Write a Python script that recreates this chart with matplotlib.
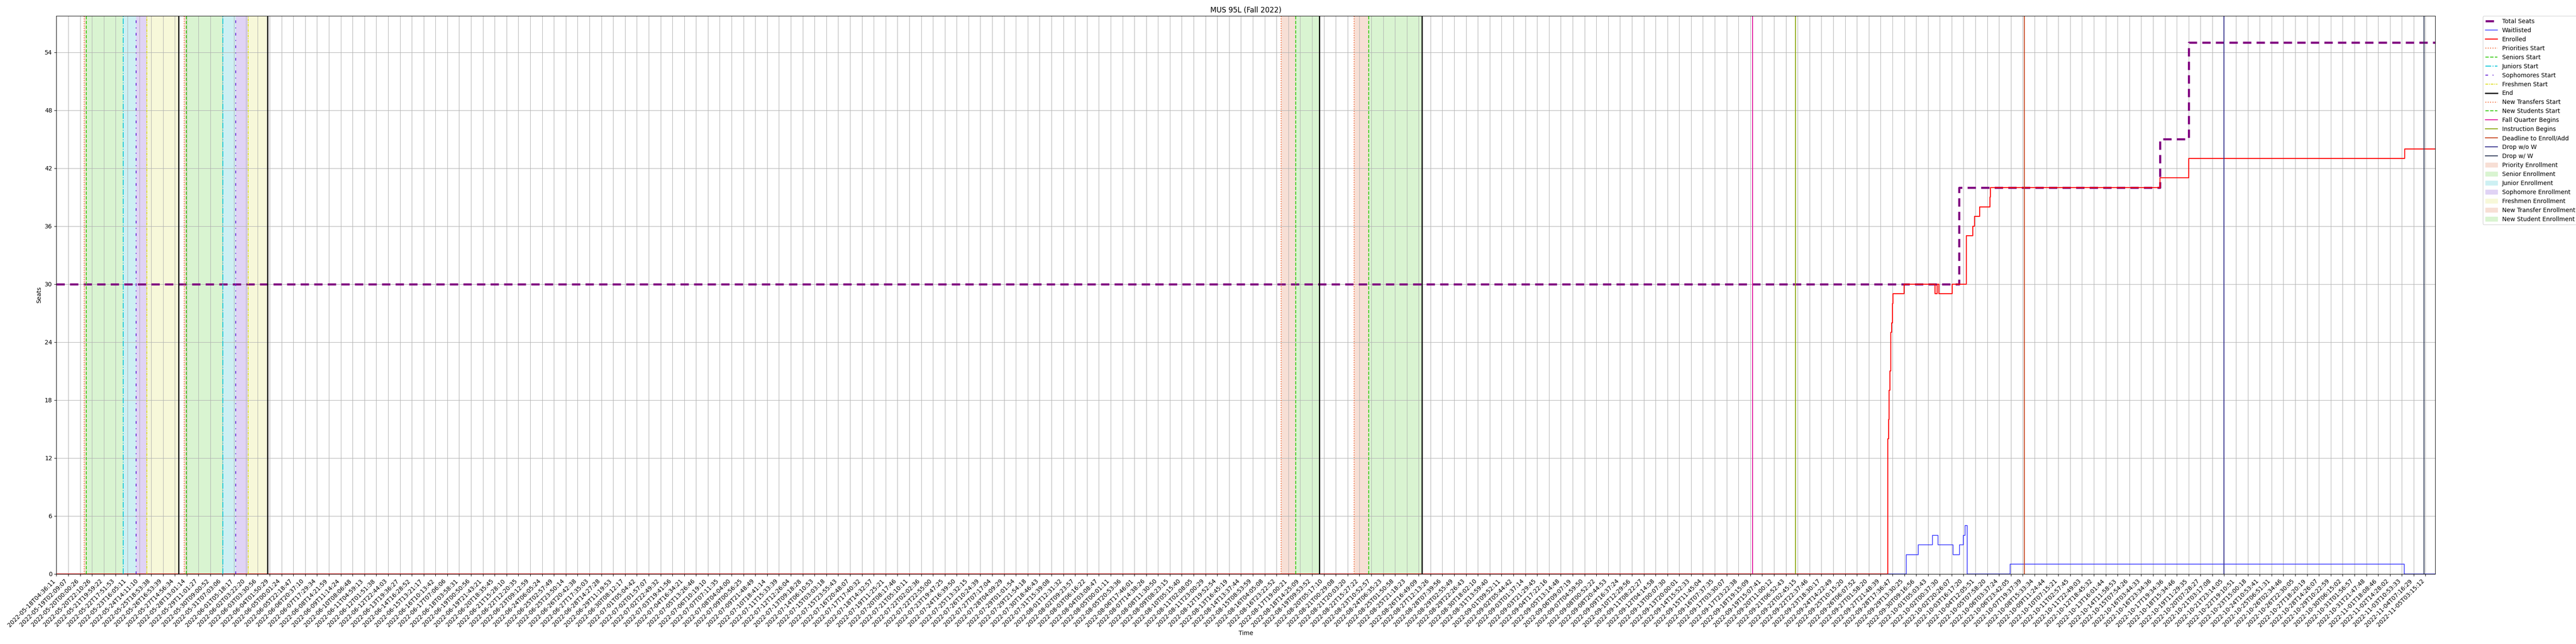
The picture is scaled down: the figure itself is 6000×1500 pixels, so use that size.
import numpy as np
import pandas as pd
import matplotlib
matplotlib.use("Agg")
import matplotlib.pyplot as plt
from matplotlib.lines import Line2D
from matplotlib.patches import Patch

# x positions are sample positions in tick units (the axis is categorical)
total_x = [0, 160.63, 177.57, 180.0, 200.83]
total_y = [30, 40, 45, 55, 55]

enrolled_x = [0, 154.60, 154.66, 154.72, 154.80, 154.87, 154.94, 155.00, 155.05,
              155.99, 158.60, 158.79, 158.91, 160.04, 161.23, 161.78, 161.93,
              162.35, 163.22, 163.27, 177.60, 180.0, 198.25, 200.83]
enrolled_y = [0, 14, 16, 19, 21, 25, 26, 28, 29, 30, 29, 30, 29, 30, 35, 36, 37,
              38, 39, 40, 41, 43, 44, 44]

waitlist_x = [0, 156.15, 157.16, 158.36, 158.85, 160.12, 160.64, 161.0, 161.13,
              161.32, 164.94, 198.22, 200.83]
waitlist_y = [0, 2, 3, 4, 3, 2, 3, 4, 5, 0, 1, 0, 0]

priorities_start = [2.34, 10.77]
seniors_start = [2.51, 10.96]
juniors_start = [5.64, 14.04]
sophomores_start = [6.73, 15.14]
freshmen_start = [7.63, 16.19]
end_marks = [10.31, 17.82, 106.61, 115.29]
new_transfers_start = [103.40, 109.56]
new_students_start = [104.63, 110.79]
fall_quarter_begins = 143.2
instruction_begins = 146.8
deadline_add = 166.13
drop_wo_w = 183.0
drop_w_w = 199.86

# tick labels (index -> label); unread ones are estimated below
read_labels = {
    0: '2022-05-18T04:36:11', 1: '2022-05-19T02:09:07', 2: '2022-05-20T00:00:26',
    3: '2022-05-20T22:10:26', 4: '2022-05-21T19:59:22', 5: '2022-05-22T17:51:53',
    6: '2022-05-23T16:05:11', 7: '2022-05-24T14:11:10', 8: '2022-05-25T18:53:38',
    9: '2022-05-26T16:53:39', 10: '2022-05-27T14:56:34', 11: '2022-05-28T13:01:14',
    12: '2022-05-29T11:01:27', 13: '2022-05-30T09:00:52', 14: '2022-05-31T07:03:06',
    15: '2022-06-01T05:18:17', 16: '2022-06-02T03:22:20', 17: '2022-06-03T03:30:56',
    18: '2022-06-04T01:50:29', 19: '2022-06-05T00:01:24', 20: '2022-06-05T22:18:47',
    21: '2022-06-06T20:37:10',
    100: '2022-08-14T13:37:44', 101: '2022-08-15T08:53:59', 102: '2022-08-16T04:05:08',
    103: '2022-08-16T23:22:52', 104: '2022-08-17T19:00:21', 105: '2022-08-18T14:25:09',
    106: '2022-08-19T09:53:52', 107: '2022-08-20T05:17:10', 108: '2022-08-21T00:29:08',
    109: '2022-08-21T20:03:20', 110: '2022-08-22T15:27:22', 111: '2022-08-23T10:52:57',
    112: '2022-08-24T06:35:23', 113: '2022-08-25T01:50:58', 114: '2022-08-25T21:18:23',
    115: '2022-08-26T16:49:09', 116: '2022-08-27T12:13:26', 117: '2022-08-28T07:39:56',
    118: '2022-08-29T02:55:49', 119: '2022-08-29T22:26:43', 120: '2022-08-30T18:02:10',
    121: '2022-08-31T13:59:40',
    152: '2022-09-26T06:07:52', 153: '2022-09-27T01:58:20', 154: '2022-09-27T21:48:39',
    155: '2022-09-28T17:36:47', 156: '2022-09-29T13:30:25', 157: '2022-09-30T09:16:56',
    158: '2022-10-01T05:03:43', 159: '2022-10-02T00:37:30', 160: '2022-10-02T20:26:07',
    161: '2022-10-03T16:17:20', 162: '2022-10-04T12:05:51', 163: '2022-10-05T07:58:20',
    164: '2022-10-06T03:37:24', 165: '2022-10-06T23:42:05', 166: '2022-10-07T19:37:39',
    167: '2022-10-08T15:33:34', 168: '2022-10-09T11:24:44', 169: '2022-10-10T07:15:21',
    170: '2022-10-11T02:57:45', 171: '2022-10-11T22:49:03', 172: '2022-10-12T18:45:32',
    173: '2022-10-13T16:01:44', 174: '2022-10-14T11:58:53', 175: '2022-10-15T07:54:26',
    176: '2022-10-16T03:44:33', 177: '2022-10-16T23:34:36', 178: '2022-10-17T19:34:36',
    179: '2022-10-18T15:34:46', 180: '2022-10-19T11:29:35', 181: '2022-10-20T07:28:27',
    182: '2022-10-21T03:17:08', 183: '2022-10-21T23:14:05', 184: '2022-10-22T19:10:51',
    185: '2022-10-23T15:00:18', 186: '2022-10-24T10:53:41', 187: '2022-10-25T06:51:31',
    188: '2022-10-26T02:34:46', 189: '2022-10-26T22:30:05', 190: '2022-10-27T18:20:19',
    191: '2022-10-28T14:26:07', 192: '2022-10-29T10:22:59', 193: '2022-10-30T06:15:02',
    194: '2022-10-31T01:56:57', 195: '2022-10-31T21:47:48', 196: '2022-11-01T18:08:46',
    197: '2022-11-02T14:28:02', 198: '2022-11-03T10:53:33', 199: '2022-11-04T07:16:29',
    200: '2022-11-05T03:15:12',
}
n_ticks = 201

# labels too small to read: estimated from the readable neighbours
known_idx = sorted(read_labels)
known_sec = [pd.Timestamp(read_labels[i]).value / 1e9 for i in known_idx]
tick_labels = []
for i in range(n_ticks):
    if i in read_labels:
        tick_labels.append(read_labels[i])
    else:
        t = np.interp(i, known_idx, known_sec)
        tick_labels.append(pd.Timestamp(int(t), unit='s').strftime('%Y-%m-%dT%H:%M:%S'))

c_prio = '#f26b3a'
c_sen = '#3dcc1a'
c_jun = '#14c8d8'
c_soph = '#6a28d6'
c_fresh = '#dede28'
c_fall = '#e0169c'
c_instr = '#8ca812'
c_dead = '#c8461e'
c_dwo = '#33308c'
c_dw = '#2f3b58'

s_prio = '#f7dfd5'
s_sen = '#d9f4d1'
s_jun = '#cdf0f3'
s_soph = '#e0d3f5'
s_fresh = '#f7f8d9'

fig, ax = plt.subplots(figsize=(60, 15), dpi=100)
fig.subplots_adjust(left=0.0219, right=0.9454, top=0.9751, bottom=0.1090)

# shaded enrollment windows
for a, b in zip(priorities_start, seniors_start):
    ax.axvspan(a, b, color=s_prio, lw=0)
for a, b in zip(seniors_start, juniors_start):
    ax.axvspan(a, b, color=s_sen, lw=0)
for a, b in zip(juniors_start, sophomores_start):
    ax.axvspan(a, b, color=s_jun, lw=0)
for a, b in zip(sophomores_start, freshmen_start):
    ax.axvspan(a, b, color=s_soph, lw=0)
for a, b in zip(freshmen_start, end_marks[:2]):
    ax.axvspan(a, b, color=s_fresh, lw=0)
for a, b in zip(new_transfers_start, new_students_start):
    ax.axvspan(a, b, color=s_prio, lw=0)
for a, b in zip(new_students_start, end_marks[2:]):
    ax.axvspan(a, b, color=s_sen, lw=0)

ax.plot(total_x, total_y, drawstyle='steps-post', color='purple', lw=3.5,
        ls=(0, (4, 2.5)))
ax.plot(waitlist_x, waitlist_y, drawstyle='steps-post', color='blue', lw=1.2,
        alpha=0.8)
ax.plot(enrolled_x, enrolled_y, drawstyle='steps-post', color='red', lw=1.6)

for x in priorities_start:
    ax.axvline(x, color=c_prio, ls=':', lw=1.5)
for x in seniors_start:
    ax.axvline(x, color=c_sen, ls='--', lw=1.5)
for x in juniors_start:
    ax.axvline(x, color=c_jun, ls='-.', lw=1.5)
for x in sophomores_start:
    ax.axvline(x, color=c_soph, ls=(0, (3, 5, 1, 5)), lw=1.5)
for x in freshmen_start:
    ax.axvline(x, color=c_fresh, ls=(0, (3, 1, 1, 1)), lw=1.5)
for x in end_marks:
    ax.axvline(x, color='black', lw=2)
for x in new_transfers_start:
    ax.axvline(x, color=c_prio, ls=':', lw=1.5)
for x in new_students_start:
    ax.axvline(x, color=c_sen, ls='--', lw=1.5)
ax.axvline(fall_quarter_begins, color=c_fall, lw=1.5)
ax.axvline(instruction_begins, color=c_instr, lw=1.5)
ax.axvline(deadline_add, color=c_dead, lw=1.5)
ax.axvline(drop_wo_w, color=c_dwo, lw=1.5)
ax.axvline(drop_w_w, color=c_dw, lw=1.5)

ax.set_xlim(0, total_x[-1])
ax.set_ylim(0, max(total_y) * 1.05)
ax.set_yticks(np.arange(0, 55, 6))
ax.set_xticks(np.arange(n_ticks))
ax.set_xticklabels(tick_labels, rotation=45, ha='right')
ax.grid(True)
ax.set_title('MUS 95L (Fall 2022)')
ax.set_xlabel('Time')
ax.set_ylabel('Seats')

handles = [
    Line2D([], [], color='purple', lw=3.5, ls=(0, (4, 2.5))),
    Line2D([], [], color='blue', lw=1.2, alpha=0.8),
    Line2D([], [], color='red', lw=1.6),
    Line2D([], [], color=c_prio, ls=':', lw=1.5),
    Line2D([], [], color=c_sen, ls='--', lw=1.5),
    Line2D([], [], color=c_jun, ls='-.', lw=1.5),
    Line2D([], [], color=c_soph, ls=(0, (3, 5, 1, 5)), lw=1.5),
    Line2D([], [], color=c_fresh, ls=(0, (3, 1, 1, 1)), lw=1.5),
    Line2D([], [], color='black', lw=2),
    Line2D([], [], color=c_prio, ls=':', lw=1.5),
    Line2D([], [], color=c_sen, ls='--', lw=1.5),
    Line2D([], [], color=c_fall, lw=1.5),
    Line2D([], [], color=c_instr, lw=1.5),
    Line2D([], [], color=c_dead, lw=1.5),
    Line2D([], [], color=c_dwo, lw=1.5),
    Line2D([], [], color=c_dw, lw=1.5),
    Patch(color=s_prio), Patch(color=s_sen), Patch(color=s_jun),
    Patch(color=s_soph), Patch(color=s_fresh), Patch(color=s_prio),
    Patch(color=s_sen),
]
labels = ['Total Seats', 'Waitlisted', 'Enrolled', 'Priorities Start',
          'Seniors Start', 'Juniors Start', 'Sophomores Start', 'Freshmen Start',
          'End', 'New Transfers Start', 'New Students Start',
          'Fall Quarter Begins', 'Instruction Begins', 'Deadline to Enroll/Add',
          'Drop w/o W', 'Drop w/ W', 'Priority Enrollment', 'Senior Enrollment',
          'Junior Enrollment', 'Sophomore Enrollment', 'Freshmen Enrollment',
          'New Transfer Enrollment', 'New Student Enrollment']
ax.legend(handles, labels, loc='upper left', bbox_to_anchor=(1.02, 1),
          borderaxespad=0)

plt.savefig('out.png')
